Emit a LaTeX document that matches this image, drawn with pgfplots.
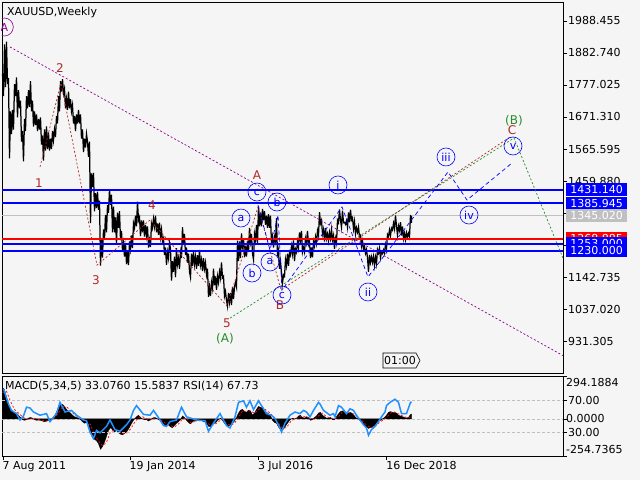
\documentclass[border=0pt]{standalone}
\usepackage{pgfplots}
\pgfplotsset{compat=1.18}
\usepackage{fontspec}
\setmainfont{DejaVu Sans}

\definecolor{bg}{RGB}{245,245,245}
\definecolor{wavered}{RGB}{178,40,40}
\definecolor{wavegreen}{RGB}{40,140,40}
\definecolor{wavepurple}{RGB}{140,0,140}
\definecolor{rsiblue}{RGB}{30,144,255}
\definecolor{silv}{RGB}{192,192,192}
\definecolor{mtblue}{RGB}{0,0,255}

\pgfplotsset{
  mtframe/.style={scale only axis, xmin=-0.5, xmax=560.5, width=561pt,
    axis line style={line width=0.8pt}, tick style={black, line width=0.6pt},
    tick align=outside, major tick length=4pt, clip mode=individual,
    ticklabel style={font=\fontsize{11}{13}\selectfont}},
  level/.style={line width=2pt, draw=#1},
}
\tikzset{
  circ/.style={circle, draw=mtblue, text=mtblue, line width=0.6pt, minimum size=18pt, inner sep=0pt},
  tag/.style={anchor=west, text=white, minimum width=61pt, minimum height=13pt, inner sep=0pt},
  wlab/.style={inner sep=0pt, font=\fontsize{12}{14}\selectfont},
}

\begin{document}
\fontsize{11}{13}\selectfont
\begin{tikzpicture}[x=1pt,y=1pt]
\fill[bg] (0,0) rectangle (640,480);

% ---------------- price window ----------------
\begin{axis}[mtframe, at={(2pt,107pt)}, anchor=south west, height=371pt,
  ymin=825.6, ymax=2051.2, xtick=\empty,
  ytick={931.305,1037.020,1142.735,1248.450,1354.165,1459.880,1565.595,1671.310,1777.025,1882.740,1988.455},
  yticklabels={931.305,1037.020,1142.735,1248.450,1354.165,1459.880,1565.595,1671.310,1777.025,1882.740,1988.455},
  ytick pos=right, yticklabel style={anchor=west, inner sep=0pt, xshift=1pt}]

\addplot[silv, line width=0.7pt] coordinates {(-0.5,1345.02) (560.5,1345.02)};

% weekly bars drawn as a high/low zigzag
\addplot[black, line width=1.25pt] coordinates {
(0,1815) (1,1740) (2,1911) (3,1770) (4,1920) (5,1780) (6,1800) (7,1535) (8,1690) (9,1615)
(10,1695) (11,1630) (12,1780) (13,1740) (14,1802) (15,1670) (16,1760) (17,1700) (18,1725) (19,1590)
(20,1625) (21,1525) (22,1665) (23,1625) (24,1740) (25,1700) (26,1760) (27,1705) (28,1790) (29,1690)
(30,1725) (31,1640) (32,1690) (33,1645) (34,1680) (35,1625) (36,1665) (37,1630) (38,1670) (39,1580)
(40,1610) (41,1527) (42,1630) (43,1560) (44,1640) (45,1565) (46,1620) (47,1560) (48,1600) (49,1565)
(50,1625) (51,1595) (52,1630) (53,1605) (54,1675) (55,1650) (56,1740) (57,1690) (58,1790) (59,1755)
(60,1796) (61,1750) (62,1765) (63,1700) (64,1730) (65,1695) (66,1755) (67,1700) (68,1730) (69,1690)
(70,1710) (71,1650) (72,1675) (73,1625) (74,1680) (75,1650) (76,1695) (77,1650) (78,1680) (79,1600)
(80,1630) (81,1555) (82,1600) (83,1570) (84,1615) (85,1590) (86,1540) (87,1590) (88,1321) (89,1485)
(90,1440) (91,1487) (92,1360) (93,1420) (94,1370) (95,1425) (96,1365) (97,1395) (98,1180) (99,1265)
(100,1207) (101,1300) (102,1270) (103,1348) (104,1290) (105,1380) (106,1355) (107,1433) (108,1380) (109,1415)
(110,1290) (111,1375) (112,1290) (113,1340) (114,1250) (115,1355) (116,1305) (117,1360) (118,1265) (119,1295)
(120,1230) (121,1255) (122,1210) (123,1255) (124,1185) (125,1225) (126,1182) (127,1260) (128,1235) (129,1280)
(130,1238) (131,1320) (132,1305) (133,1345) (134,1310) (135,1392) (136,1330) (137,1340) (138,1278) (139,1330)
(140,1290) (141,1330) (142,1276) (143,1315) (144,1280) (145,1310) (146,1240) (147,1265) (148,1242) (149,1320)
(150,1305) (151,1335) (152,1310) (153,1345) (154,1290) (155,1320) (156,1282) (157,1322) (158,1275) (159,1300)
(160,1260) (161,1270) (162,1215) (163,1240) (164,1183) (165,1225) (166,1205) (167,1255) (168,1235) (169,1131)
(170,1195) (171,1160) (172,1210) (173,1142) (174,1238) (175,1185) (176,1205) (177,1170) (178,1225) (179,1205)
(180,1307) (181,1250) (182,1285) (183,1215) (184,1240) (185,1190) (186,1220) (187,1160) (188,1142) (189,1220)
(190,1180) (191,1225) (192,1185) (193,1210) (194,1170) (195,1215) (196,1180) (197,1232) (198,1182) (199,1200)
(200,1162) (201,1205) (202,1170) (203,1190) (204,1150) (205,1170) (206,1077) (207,1110) (208,1080) (209,1125)
(210,1105) (211,1170) (212,1115) (213,1145) (214,1100) (215,1145) (216,1125) (217,1160) (218,1140) (219,1191)
(220,1140) (221,1145) (222,1080) (223,1095) (224,1065) (225,1046) (226,1090) (227,1060) (228,1090) (229,1050)
(230,1110) (231,1070) (232,1110) (233,1125) (234,1110) (235,1263) (236,1195) (237,1260) (238,1205) (239,1287)
(240,1245) (241,1270) (242,1208) (243,1245) (244,1210) (245,1262) (246,1225) (247,1305) (248,1260) (249,1285)
(250,1220) (251,1200) (252,1285) (253,1265) (254,1315) (255,1255) (256,1375) (257,1310) (258,1355) (259,1310)
(260,1368) (261,1330) (262,1360) (263,1315) (264,1345) (265,1305) (266,1350) (267,1305) (268,1345) (269,1250)
(270,1275) (271,1240) (272,1275) (273,1260) (274,1337) (275,1210) (276,1230) (277,1170) (278,1195) (279,1155)
(280,1122) (281,1150) (282,1145) (283,1200) (284,1180) (285,1220) (286,1180) (287,1225) (288,1215) (289,1245)
(290,1220) (291,1264) (292,1195) (293,1235) (294,1225) (295,1260) (296,1240) (297,1290) (298,1265) (299,1295)
(300,1225) (301,1240) (302,1225) (303,1270) (304,1255) (305,1295) (306,1250) (307,1260) (308,1205) (309,1240)
(310,1208) (311,1260) (312,1245) (313,1275) (314,1255) (315,1295) (316,1280) (317,1357) (318,1320) (319,1330)
(320,1285) (321,1300) (322,1260) (323,1305) (324,1270) (325,1285) (326,1262) (327,1290) (328,1270) (329,1300)
(330,1265) (331,1280) (332,1236) (333,1270) (334,1255) (335,1330) (336,1322) (337,1366) (338,1330) (339,1307)
(340,1362) (341,1322) (342,1323) (343,1317) (344,1329) (345,1307) (346,1356) (347,1323) (348,1365) (349,1331)
(350,1338) (351,1302) (352,1326) (353,1285) (354,1305) (355,1291) (356,1308) (357,1275) (358,1280) (359,1245)
(360,1262) (361,1235) (362,1245) (363,1221) (364,1233) (365,1206) (366,1160) (367,1216) (368,1191) (369,1209)
(370,1191) (371,1211) (372,1181) (373,1208) (374,1187) (375,1233) (376,1222) (377,1238) (378,1206) (379,1226)
(380,1220) (381,1232) (382,1221) (383,1251) (384,1238) (385,1283) (386,1276) (387,1298) (388,1280) (389,1304)
(390,1298) (391,1320) (392,1302) (393,1346) (394,1311) (395,1281) (396,1311) (397,1297) (398,1324) (399,1280)
(400,1310) (401,1270) (402,1287) (403,1266) (404,1289) (405,1275) (406,1287) (407,1275) (408,1348) (409,1322)
(409,1345)};

% horizontal levels
\addplot[level=mtblue] coordinates {(-0.5,1431.14) (560.5,1431.14)};
\addplot[level=mtblue] coordinates {(-0.5,1385.945) (560.5,1385.945)};
\addplot[level=red] coordinates {(-0.5,1268.885) (560.5,1268.885)};
\addplot[level=mtblue] coordinates {(-0.5,1253.0) (560.5,1253.0)};
\addplot[level=mtblue] coordinates {(-0.5,1230.0) (560.5,1230.0)};

% wave lines
\addplot[wavepurple, line width=0.7pt, dash pattern=on 2pt off 2pt] coordinates {(7.5,1902.6) (560.5,883.1)};
\addplot[wavered, line width=0.7pt, dash pattern=on 2pt off 2pt] coordinates {
(37.5,1506) (58.5,1784) (94.5,1182) (147.5,1331) (224.5,1047) (255.5,1374) (278.5,1100) (507.5,1605)};
\addplot[wavegreen, line width=0.7pt, dash pattern=on 2pt off 2pt] coordinates {
(227.5,1007) (511.5,1602) (560.5,1205)};
\addplot[mtblue, line width=0.7pt, dash pattern=on 4pt off 3pt] coordinates {
(255.5,1380.6) (267.5,1231.9) (275.5,1347.5) (279.5,1099.8) (339.5,1374.0)
(365.5,1142.7) (445.5,1489.6) (464.5,1397.1) (509.5,1519.3)};

% wave labels
\begin{scope}
\clip (axis cs:-0.5,825.6) rectangle (axis cs:560.5,2051.2);
\node[circle, draw=wavepurple, text=wavepurple, line width=0.6pt, minimum size=18pt, inner sep=0pt] at (axis cs:1.8,1968.6) {A};
\end{scope}
\node[wlab, text=wavered] at (axis cs:36.5,1453.3) {1};
\node[wlab, text=wavered] at (axis cs:57.5,1833.2) {2};
\node[wlab, text=wavered] at (axis cs:93.5,1132.8) {3};
\node[wlab, text=wavered] at (axis cs:149.5,1380.6) {4};
\node[wlab, text=wavered] at (axis cs:224.5,990.8) {5};
\node[wlab, text=wavered] at (axis cs:254.5,1479.7) {A};
\node[wlab, text=wavered] at (axis cs:277.5,1050.2) {B};
\node[wlab, text=wavered] at (axis cs:509.5,1628.4) {C};
\node[wlab, text=wavegreen] at (axis cs:222.5,937.9) {(A)};
\node[wlab, text=wavegreen] at (axis cs:511.5,1658.1) {(B)};
\node[circ] at (axis cs:238.5,1337.6) {a};
\node[circ] at (axis cs:249.5,1155.9) {b};
\node[circ] at (axis cs:254.5,1423.5) {c};
\node[circ] at (axis cs:274.5,1390.5) {b};
\node[circ] at (axis cs:267.5,1192.3) {a};
\node[circ] at (axis cs:279.5,1083.2) {c};
\node[circ] at (axis cs:335.5,1446.7) {i};
\node[circ] at (axis cs:365.5,1093.2) {ii};
\node[circ] at (axis cs:443.5,1539.2) {iii};
\node[circ] at (axis cs:466.5,1347.5) {iv};
\node[circ] at (axis cs:510.5,1575.5) {v};

% timer box and title
\draw[black, fill=bg, line width=0.6pt] (axis cs:380.5,891.6) -- (axis cs:413.5,891.6) -- (axis cs:417.5,866.9)
  -- (axis cs:413.5,842.1) -- (axis cs:380.5,842.1) -- cycle;
\node[inner sep=0pt] at (axis cs:397.5,866.9) {01:00};
\node[anchor=west, inner sep=0pt] at (axis cs:4.5,2018) {XAUUSD,Weekly};

\coordinate (t1) at (axis cs:563.5,1431.14);
\coordinate (t2) at (axis cs:563.5,1385.945);
\coordinate (t3) at (axis cs:563.5,1345.02);
\coordinate (t4) at (axis cs:563.5,1268.885);
\coordinate (t5) at (axis cs:563.5,1253.0);
\coordinate (t6) at (axis cs:563.5,1230.0);
\end{axis}

% price tags on the right scale
\node[tag, fill=mtblue] at (t1) {1431.140};
\node[tag, fill=mtblue] at (t2) {1385.945};
\node[tag, fill=silv] at (t3) {1345.020};
\node[tag, fill=red] at (t4) {1268.885};
\node[tag, fill=mtblue] at (t5) {1253.000};
\node[tag, fill=mtblue] at (t6) {1230.000};

% ---------------- MACD window ----------------
\begin{axis}[mtframe, at={(2pt,24pt)}, anchor=south west, height=80pt,
  ymin=-254.7365, ymax=294.1884,
  xtick={0.5,127.5,255.8,384.2}, xticklabels={7 Aug 2011,19 Jan 2014,3 Jul 2016,16 Dec 2018},
  xtick pos=bottom, xticklabel style={anchor=north west, inner sep=0pt, xshift=-0.5pt, yshift=-1pt},
  ytick={-254.7365,0,294.1884}, yticklabels={,,}, ytick pos=right]
\addplot[silv, line width=0.6pt, dash pattern=on 3pt off 2pt] coordinates {(-0.5,0) (560.5,0)};
\addplot[black, fill=black, line width=0.3pt] coordinates {
(0,215) (2,200) (4,150) (6,100) (8,70) (10,55) (12,45) (14,40) (16,25) (18,10)
(20,-5) (22,-10) (24,-5) (26,5) (28,10) (30,5) (32,-5) (34,-10) (36,-8) (38,-10)
(40,-15) (42,-20) (44,-15) (46,-10) (48,-5) (50,5) (52,20) (54,45) (56,75) (58,95)
(60,100) (62,85) (64,65) (66,50) (68,40) (70,25) (72,15) (74,10) (76,5) (78,-5)
(80,-20) (82,-30) (84,-25) (86,-35) (88,-90) (90,-130) (92,-140) (94,-150) (96,-170) (98,-209)
(100,-190) (102,-160) (104,-120) (106,-80) (108,-60) (110,-75) (112,-90) (114,-80) (116,-95) (118,-105)
(120,-110) (122,-100) (124,-90) (126,-70) (128,-45) (130,-20) (132,0) (134,15) (136,25) (138,10)
(140,0) (142,-5) (144,-5) (146,-15) (148,-5) (150,5) (152,10) (154,5) (156,-5) (158,-10)
(160,-25) (162,-40) (164,-50) (166,-40) (168,-55) (170,-60) (172,-45) (174,-30) (176,-20) (178,-5)
(180,20) (182,10) (184,-10) (186,-25) (188,-35) (190,-20) (192,-10) (194,-15) (196,-5) (198,-10)
(200,-15) (202,-20) (204,-30) (206,-50) (208,-55) (210,-35) (212,-30) (214,-20) (216,-5) (218,5)
(220,-10) (222,-30) (224,-45) (226,-50) (228,-40) (230,-30) (232,-15) (234,10) (236,40) (238,60)
(240,65) (242,50) (244,45) (246,60) (248,55) (250,25) (252,40) (254,65) (256,85) (258,80)
(260,75) (262,60) (264,45) (266,35) (268,25) (270,-10) (272,-25) (274,-30) (276,-55) (278,-75)
(280,-76) (282,-60) (284,-40) (286,-20) (288,-5) (290,5) (292,0) (294,5) (296,20) (298,25)
(300,10) (302,5) (304,15) (306,10) (308,-10) (310,-5) (312,10) (314,20) (316,40) (318,45)
(320,25) (322,15) (324,5) (326,5) (328,10) (330,-5) (332,-5) (334,15) (336,35) (338,50)
(340,55) (342,45) (344,35) (346,40) (348,45) (350,35) (352,20) (354,5) (356,0) (358,-15)
(360,-30) (362,-45) (364,-55) (366,-65) (368,-60) (370,-55) (372,-45) (374,-30) (376,-15) (378,-10)
(380,0) (382,10) (384,25) (386,45) (388,50) (390,45) (392,45) (394,40) (396,25) (398,20)
(400,15) (402,10) (404,5) (406,10) (408,30) (409,33.076)} \closedcycle;
\addplot[red, line width=0.7pt, dash pattern=on 2pt off 2pt] coordinates {
(0,180) (4,190) (8,120) (12,65) (16,40) (20,15) (24,-5) (28,0) (32,5) (36,-5)
(40,-10) (44,-15) (48,-10) (52,5) (56,40) (60,85) (64,85) (68,55) (72,30) (76,10)
(80,-5) (84,-20) (88,-40) (92,-110) (96,-150) (100,-185) (104,-160) (108,-90) (112,-75) (116,-85)
(120,-100) (124,-100) (128,-70) (132,-25) (136,10) (140,15) (144,0) (148,-8) (152,5) (156,5)
(160,-15) (164,-35) (168,-48) (172,-55) (176,-35) (180,0) (184,5) (188,-25) (192,-20) (196,-10)
(200,-12) (204,-22) (208,-45) (212,-40) (216,-18) (220,-3) (224,-30) (228,-45) (232,-30) (236,10)
(240,55) (244,52) (248,55) (252,38) (256,65) (260,80) (264,58) (268,38) (272,0) (276,-30)
(280,-65) (284,-60) (288,-20) (292,0) (296,8) (300,20) (304,10) (308,5) (312,-3) (316,20)
(320,40) (324,15) (328,6) (332,0) (336,15) (340,48) (344,45) (348,40) (352,32) (356,8)
(360,-15) (364,-42) (368,-60) (372,-55) (376,-30) (380,-10) (384,10) (388,40) (392,47) (396,35)
(400,20) (404,10) (408,12) (409,15.58)};
\coordinate (m1) at (axis cs:563.5,294.1884);
\coordinate (m2) at (axis cs:563.5,0);
\coordinate (m3) at (axis cs:563.5,-254.7365);
\node[anchor=west, inner sep=0pt] at (axis cs:2.5,226) {MACD(5,34,5) 33.0760 15.5837 RSI(14) 67.73};
\end{axis}
\node[anchor=west, inner sep=0pt] at ([yshift=-6.7pt]m1) {294.1884};
\node[anchor=west, inner sep=0pt] at (m2) {0.0000};
\node[anchor=west, inner sep=0pt] at ([yshift=6.7pt]m3) {-254.7365};

% RSI overlay on the same window
\begin{axis}[mtframe, at={(2pt,24pt)}, anchor=south west, height=80pt,
  ymin=0, ymax=100, xtick=\empty, axis line style={draw=none},
  ytick={30,70}, yticklabels={30.00,70.00}, ytick pos=right,
  yticklabel style={anchor=west, inner sep=0pt, xshift=1pt}]
\addplot[silv, line width=0.6pt, dash pattern=on 3pt off 2pt] coordinates {(-0.5,70) (560.5,70)};
\addplot[silv, line width=0.6pt, dash pattern=on 3pt off 2pt] coordinates {(-0.5,30) (560.5,30)};
\addplot[rsiblue, line width=1.5pt] coordinates {
(1,84) (6,65) (9,57) (14,53) (17.5,45) (21,50) (24,61) (27.5,60) (31,55) (37.5,51)
(44,53) (47.5,43) (54,53) (57.5,67) (62.5,55) (69,57) (74,51) (81,45) (84,44) (87.5,30)
(91,22) (94,32) (97.5,29) (104,37) (107.5,45) (112.5,33) (117.5,31) (124,39) (127.5,45) (131,57)
(134,63) (141,52) (147.5,51) (151,57) (156,48) (161,38) (164,37) (167.5,43) (174,45) (179,61)
(184,49) (194,45) (202.5,44) (206,31) (211,41) (217.5,53) (224,38) (227.5,35) (232.5,49) (236,67)
(241,69) (244,61) (247.5,69) (251,58) (256,69) (259,63) (264,53) (269,51) (272.5,47) (277.5,35)
(279,30) (282.5,41) (287.5,51) (292.5,55) (297.5,53) (301,57) (304,55) (307.5,49) (311,57) (316,67)
(317.5,65) (321,57) (327.5,51) (331,53) (332.5,49) (334,55) (336,63) (339,61) (344,53) (347.5,59)
(351,57) (354,51) (357.5,45) (361,39) (364,35) (366,26) (369,33) (372.5,37) (376,43) (379,49)
(382.5,55) (384,63) (387.5,67) (392.5,71) (396,67) (399,53) (404,53) (408,67) (409,67.73)};
\end{axis}
\pgfresetboundingbox
\useasboundingbox (0,0) rectangle (640,480);
\end{tikzpicture}
\end{document}
